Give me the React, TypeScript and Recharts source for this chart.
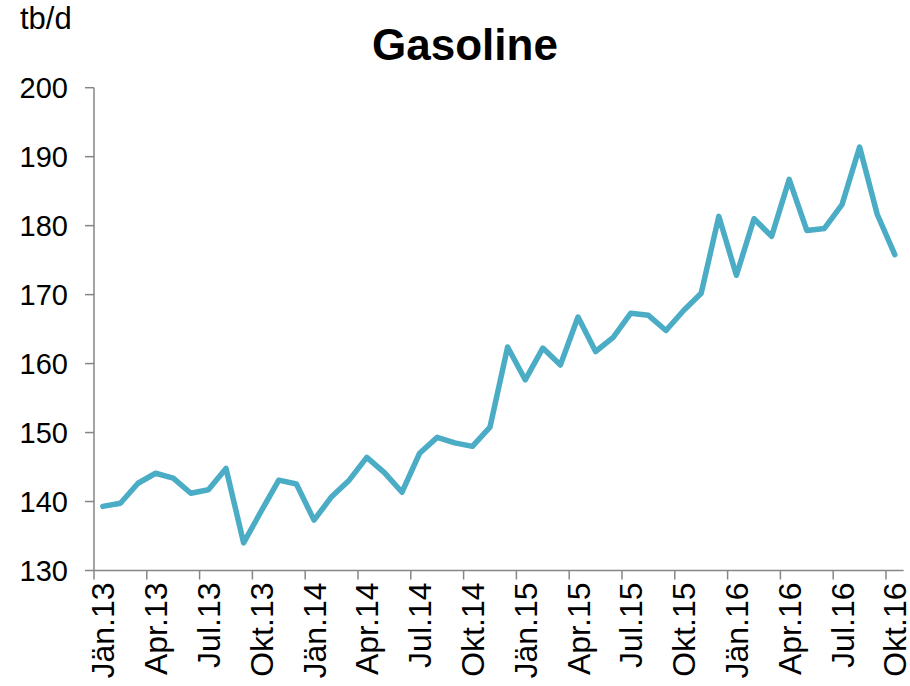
import React from 'react';
import { LineChart, Line, XAxis, YAxis } from 'recharts';

const categories: string[] = [
  'Jän.13', 'Feb.13', 'Mär.13', 'Apr.13', 'Mai.13', 'Jun.13', 'Jul.13', 'Aug.13', 'Sep.13', 'Okt.13', 'Nov.13', 'Dez.13',
  'Jän.14', 'Feb.14', 'Mär.14', 'Apr.14', 'Mai.14', 'Jun.14', 'Jul.14', 'Aug.14', 'Sep.14', 'Okt.14', 'Nov.14', 'Dez.14',
  'Jän.15', 'Feb.15', 'Mär.15', 'Apr.15', 'Mai.15', 'Jun.15', 'Jul.15', 'Aug.15', 'Sep.15', 'Okt.15', 'Nov.15', 'Dez.15',
  'Jän.16', 'Feb.16', 'Mär.16', 'Apr.16', 'Mai.16', 'Jun.16', 'Jul.16', 'Aug.16', 'Sep.16', 'Okt.16',
];

const gasoline: number[] = [
  139.3, 139.75, 142.65, 144.1, 143.4, 141.2, 141.7, 144.8, 134.0, 138.6, 143.1, 142.55,
  137.3, 140.7, 143.1, 146.4, 144.2, 141.35, 147.0, 149.3, 148.5, 148.0, 150.8, 162.4,
  157.65, 162.25, 159.8, 166.75, 161.75, 163.8, 167.3, 167.0, 164.8, 167.7, 170.2, 181.35,
  172.8, 181.0, 178.45, 186.7, 179.3, 179.6, 183.05, 191.4, 181.65, 175.8,
];

const labelIndices: number[] = [0, 3, 6, 9, 12, 15, 18, 21, 24, 27, 30, 33, 36, 39, 42, 45];
const yTicks: number[] = [130, 140, 150, 160, 170, 180, 190, 200];

const data = categories.map((c, i) => ({ idx: i, label: c, value: gasoline[i] }));
const boundaryTicks = labelIndices.map((i) => i - 0.5);
const xTicks = [...boundaryTicks, ...labelIndices].sort((a, b) => a - b);

const FONT = '"Liberation Sans", Arial, Helvetica, sans-serif';
const AXIS = '#868686';

const XTick = (props: any) => {
  const { x, y, payload } = props;
  const v: number = payload.value;
  if (!Number.isInteger(v)) {
    return <line x1={x} x2={x} y1={y} y2={y + 9} stroke={AXIS} strokeWidth={1.5} />;
  }
  const ty = y + 12;
  return (
    <text
      x={x}
      y={ty}
      transform={`rotate(-90, ${x}, ${ty})`}
      textAnchor="end"
      dy="0.36em"
      fontSize={32}
      fontFamily={FONT}
      fill="#000"
    >
      {categories[v]}
    </text>
  );
};

export default function App() {
  return (
    <div style={{ position: 'absolute', left: 0, top: 0, width: 910, height: 686, background: '#fff' }}>
      <LineChart
        width={910}
        height={686}
        data={data}
        margin={{ top: 87.7, right: 6.4, bottom: 0, left: 0 }}
      >
        <XAxis
          dataKey="idx"
          type="number"
          domain={[-0.5, 45.5]}
          ticks={xTicks}
          interval={0}
          tick={<XTick />}
          tickLine={false}
          tickSize={0}
          tickMargin={0}
          axisLine={{ stroke: AXIS, strokeWidth: 1.5 }}
          height={115.5}
          allowDataOverflow
        />
        <YAxis
          type="number"
          domain={[130, 200]}
          ticks={yTicks}
          interval={0}
          width={94}
          tickSize={9}
          tickMargin={17}
          tickLine={{ stroke: AXIS, strokeWidth: 1.5 }}
          axisLine={{ stroke: AXIS, strokeWidth: 1.5 }}
          tick={{ fontSize: 29, fill: '#000', fontFamily: FONT }}
          allowDataOverflow
        />
        <Line
          type="linear"
          dataKey="value"
          stroke="#4BACC6"
          strokeWidth={5.5}
          strokeLinejoin="round"
          strokeLinecap="round"
          dot={false}
          activeDot={false}
          isAnimationActive={false}
        />
      </LineChart>
      <svg
        width={910}
        height={686}
        style={{ position: 'absolute', left: 0, top: 0, pointerEvents: 'none' }}
      >
        <text x={20} y={29.3} fontSize={31} fontFamily={FONT} fill="#000">tb/d</text>
        <text x={465} y={59.5} fontSize={44} fontWeight="bold" fontFamily={FONT} fill="#000" textAnchor="middle">
          Gasoline
        </text>
      </svg>
    </div>
  );
}
